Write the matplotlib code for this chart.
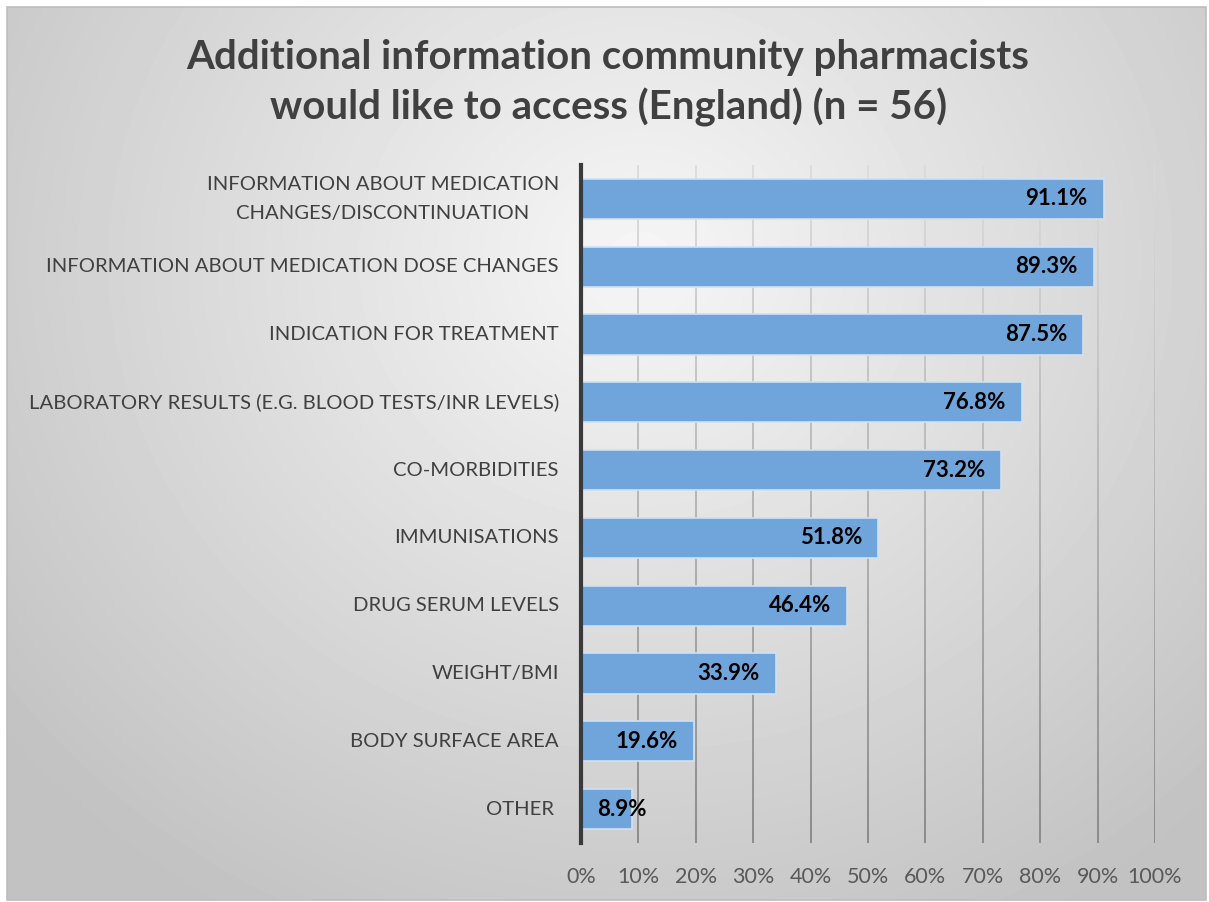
import numpy as np
import matplotlib
matplotlib.use("Agg")
from matplotlib import pyplot as plt
from matplotlib.collections import LineCollection
from matplotlib.patches import Rectangle

categories = [
    "INFORMATION ABOUT MEDICATION\nCHANGES/DISCONTINUATION",
    "INFORMATION ABOUT MEDICATION DOSE CHANGES",
    "INDICATION FOR TREATMENT",
    "LABORATORY RESULTS (E.G. BLOOD TESTS/INR LEVELS)",
    "CO-MORBIDITIES",
    "IMMUNISATIONS",
    "DRUG SERUM LEVELS",
    "WEIGHT/BMI",
    "BODY SURFACE AREA",
    "OTHER ",
]
percents = [91.1, 89.3, 87.5, 76.8, 73.2, 51.8, 46.4, 33.9, 19.6, 8.9]
xticks = list(range(0, 101, 10))
title = "Additional information community pharmacists\nwould like to access (England) (n = 56)"

plt.rcParams["font.family"] = ["Lato", "DejaVu Sans"]

W, H = 1209, 902
fig = plt.figure(figsize=(W / 100, H / 100), dpi=100)
fig.patch.set_facecolor("white")

# radial grey background of the chart area
bg = fig.add_axes([0, 0, 1, 1], zorder=0)
yy, xx = np.mgrid[0:H, 0:W]
r = np.sqrt(((xx - 640) / 760.0) ** 2 + ((yy - 260) / 700.0) ** 2)
shade = np.clip(0.965 - 0.19 * r, 0.76, 0.97)
bg.imshow(shade, cmap="gray", vmin=0, vmax=1, extent=[0, W, H, 0], aspect="auto")
bg.add_patch(Rectangle((0, 0), W, 7, color="white", lw=0))
bg.add_patch(Rectangle((0, 0), 7, H, color="white", lw=0))
bg.add_patch(Rectangle((W - 3, 0), 3, H, color="white", lw=0))
bg.add_patch(Rectangle((0, H - 2), W, 2, color="white", lw=0))
bg.add_patch(Rectangle((7, 7), W - 10, H - 9, fill=False, ec="#bdbdbd", lw=1.2))
bg.set_xlim(0, W)
bg.set_ylim(H, 0)
bg.axis("off")

fig.text(0.503, 1 - 83 / H, title, ha="center", va="center", fontsize=29, fontweight="bold",
         color="#404040", linespacing=1.35)

ax = fig.add_axes([581 / W, 1 - 843 / H, (1155 - 581) / W, (843 - 165) / H], zorder=1)
ax.patch.set_alpha(0)
y = np.arange(len(categories))
ax.set_xlim(0, 100)
ax.set_ylim(len(categories) - 0.5, -0.5)

# gridlines fading from light at the top to darker at the bottom
n = 60
ts = np.linspace(-0.5, len(categories) - 0.5, n + 1)
top = np.array([0.86, 0.86, 0.86])
bot = np.array([0.52, 0.52, 0.52])
for xv in xticks[1:]:
    segs = [[(xv, ts[i]), (xv, ts[i + 1])] for i in range(n)]
    cols = [top + (bot - top) * (i / n) for i in range(n)]
    ax.add_collection(LineCollection(segs, colors=cols, linewidths=1.3, zorder=1))

ax.barh(y, percents, height=0.59, color="#6fa5da", edgecolor="#cfe1f3", linewidth=1.2, zorder=2)
for yi, v in zip(y, percents):
    if v > 15:
        ax.text(v - 2.8, yi, f"{v:.1f}%", ha="right", va="center", fontsize=16,
                fontweight="bold", color="black", zorder=3)
    else:
        ax.text(2.8, yi, f"{v:.1f}%", ha="left", va="center", fontsize=16,
                fontweight="bold", color="black", zorder=3)

ax.set_yticks(y)
ax.set_yticklabels(categories, fontsize=14.6, color="#404040", multialignment="center",
                   linespacing=1.8)
for lbl in ax.get_yticklabels():
    lbl.set_verticalalignment("center")
ax.set_xticks(xticks)
ax.set_xticklabels([f"{t}%" for t in xticks], fontsize=15.5, color="#595959")
ax.tick_params(axis="both", length=0)
ax.tick_params(axis="y", pad=16)
ax.tick_params(axis="x", pad=17)
for s in ["top", "right", "bottom"]:
    ax.spines[s].set_visible(False)
ax.spines["left"].set_color("#3a3a3a")
ax.spines["left"].set_linewidth(3)
ax.spines["left"].set_zorder(4)

fig.savefig("out.png", dpi=100)
